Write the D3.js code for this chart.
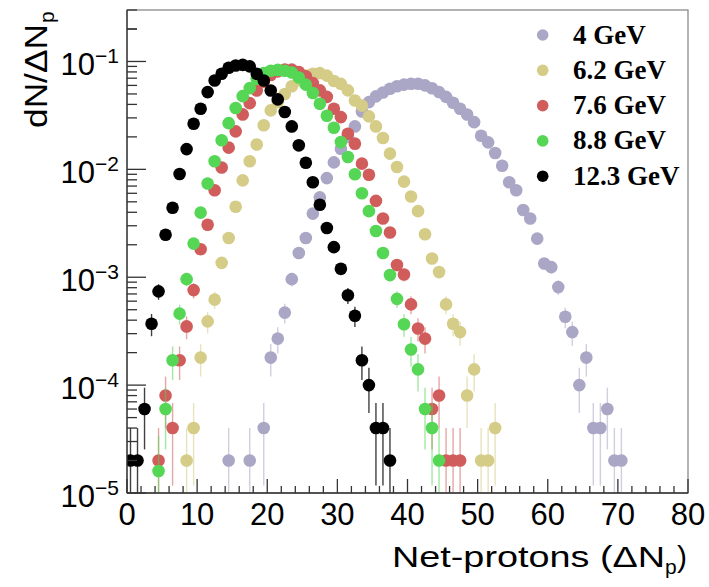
<!DOCTYPE html>
<html><head><meta charset="utf-8">
<script src="https://cdn.jsdelivr.net/npm/d3@7"></script>
<style>body{margin:0;background:#fff}svg{display:block}</style>
</head><body>
<svg id="c" width="709" height="587"></svg>
<script>
// ---- data ----
const energies = ["4 GeV", "6.2 GeV", "7.6 GeV", "8.8 GeV", "12.3 GeV"];
const colors = ["#aaa6c5", "#d4cc87", "#d15c5c", "#55d655", "#000000"];

const x_4 = [14.5,17.5,19.5,20.5,21.5,22.5,23.5,24.5,25.5,26.5,27.5,28.5,29.5,30.5,31.5,32.5,33.5,34.5,35.5,36.5,37.5,38.5,39.5,40.5,41.5,42.5,43.5,44.5,45.5,46.5,47.5,48.5,49.5,50.5,51.5,52.5,53.5,54.5,55.5,56.5,57.5,58.5,59.5,60.5,61.5,62.5,63.5,64.5,65.5,66.5,67.5,68.5,69.5,70.5];
const y_4 = [2e-5,2e-5,4e-5,1.8e-4,2.7e-4,4.7e-4,9.6e-4,1.68e-3,2.31e-3,3.89e-3,5.5e-3,8.3e-3,0.0116,0.0155,0.020,0.025,0.0344,0.042,0.0475,0.0515,0.0558,0.059,0.061,0.0622,0.0622,0.060,0.0565,0.052,0.047,0.0415,0.0365,0.0322,0.0274,0.0205,0.0178,0.0142,0.0108,0.0076,0.0064,0.0042,0.0035,0.00228,0.00134,0.00124,8.1e-4,4.3e-4,3.1e-4,1.0e-4,1.8e-4,4e-5,4e-5,6e-5,2e-5,2e-5];

const x_62 = [8.5,9.5,10.5,11.5,12.5,13.5,14.5,15.5,16.5,17.5,18.5,19.5,20.5,21.5,22.5,23.5,24.5,25.5,26.5,27.5,28.5,29.5,30.5,31.5,32.5,33.5,34.5,35.5,36.5,37.5,38.5,39.5,40.5,41.5,42.5,43.5,44.5,45.5,46.5,47.5,48.5,49.5,50.5,51.5,52.5];
const y_62 = [2e-5,4e-5,1.8e-4,3.9e-4,6.2e-4,1.36e-3,2.31e-3,4.5e-3,7.9e-3,0.0119,0.017,0.0256,0.0352,0.042,0.050,0.059,0.067,0.074,0.077,0.078,0.074,0.066,0.062,0.054,0.0435,0.039,0.031,0.025,0.0195,0.014,0.0105,7.7e-3,5.6e-3,4.1e-3,2.5e-3,1.49e-3,1.12e-3,5.6e-4,3.7e-4,3.1e-4,8e-5,1.4e-4,2e-5,2e-5,4e-5];

const x_76 = [4.5,5.5,6.5,7.5,8.5,9.5,10.5,11.5,12.5,13.5,14.5,15.5,16.5,17.5,18.5,19.5,20.5,21.5,22.5,23.5,24.5,25.5,26.5,27.5,28.5,29.5,30.5,31.5,32.5,33.5,34.5,35.5,36.5,37.5,38.5,39.5,40.5,41.5,42.5,43.5,44.5,45.5,46.5,47.5];
const y_76 = [2e-5,8e-5,4e-5,1.7e-4,3.5e-4,7.6e-4,1.82e-3,3.07e-3,6.4e-3,0.0104,0.0159,0.0225,0.0323,0.0411,0.0538,0.065,0.075,0.081,0.084,0.084,0.080,0.073,0.063,0.054,0.047,0.0365,0.0305,0.0214,0.0173,0.0113,0.0089,0.0051,0.0035,0.0026,0.0013,0.00106,5.6e-4,3.35e-4,2.7e-4,6e-5,8e-5,2e-5,2e-5,2e-5];

const x_88 = [4.5,5.5,6.5,7.5,8.5,9.5,10.5,11.5,12.5,13.5,14.5,15.5,16.5,17.5,18.5,19.5,20.5,21.5,22.5,23.5,24.5,25.5,26.5,27.5,28.5,29.5,30.5,31.5,32.5,33.5,34.5,35.5,36.5,37.5,38.5,39.5,40.5,41.5,42.5,43.5,44.5];
const y_88 = [1.6e-5,6e-5,1.7e-4,4.6e-4,9.6e-4,2.05e-3,3.97e-3,7.4e-3,0.0119,0.0186,0.0268,0.037,0.0477,0.0566,0.069,0.078,0.082,0.0835,0.082,0.079,0.071,0.061,0.051,0.0406,0.0314,0.0243,0.0179,0.013,0.009,0.006,0.0041,0.00268,0.00168,0.00105,6.3e-4,3.67e-4,2.14e-4,1.4e-4,6e-5,4e-5,2e-5];

const x_123 = [0.5,1.5,2.5,3.5,4.5,5.5,6.5,7.5,8.5,9.5,10.5,11.5,12.5,13.5,14.5,15.5,16.5,17.5,18.5,19.5,20.5,21.5,22.5,23.5,24.5,25.5,26.5,27.5,28.5,29.5,30.5,31.5,32.5,33.5,34.5,35.5,36.5,37.5];
const y_123 = [2e-5,2e-5,6e-5,3.7e-4,7.4e-4,2.48e-3,4.4e-3,9.06e-3,0.0154,0.0265,0.0365,0.052,0.0667,0.0769,0.0875,0.0919,0.093,0.090,0.0769,0.0667,0.0538,0.0445,0.034,0.025,0.0167,0.0115,0.0076,0.0047,0.00286,0.0019,0.0012,6.8e-4,4.4e-4,1.7e-4,1.0e-4,4e-5,4e-5,2e-5];

const xs = [x_4, x_62, x_76, x_88, x_123];
const ys = [y_4, y_62, y_76, y_88, y_123];
const countUnit = 2e-5;          // one entry in the normalised histogram
const xTicks = [0,10,20,30,40,50,60,70,80];
const yDecades = [-5,-4,-3,-2,-1];

// ---- layout ----
const L = 127, R = 688, T = 10, B = 493;
const FONT = "Liberation Sans, Arial, Helvetica, sans-serif";
const svg = d3.select("#c");
const x = d3.scaleLinear().domain([0, 80]).range([L, R]);
const y = d3.scaleLog().domain([1e-5, 0.3]).range([B, T]);

// frame
svg.append("rect").attr("x", L).attr("y", T).attr("width", R - L).attr("height", B - T)
  .attr("fill", "none").attr("stroke", "#8a8a8a").attr("stroke-width", 1.3);

svg.append("defs").append("clipPath").attr("id", "pc")
  .append("rect").attr("x", L).attr("y", T).attr("width", R - L).attr("height", B - T);
const plot = svg.append("g").attr("clip-path", "url(#pc)");

// series: error bars then markers, drawn in legend order
energies.forEach((e, i) => {
  const g = plot.append("g");
  const pts = xs[i].map((xv, k) => ({xv, yv: ys[i][k]}));
  g.selectAll("line").data(pts).enter().append("line")
    .attr("x1", d => x(d.xv)).attr("x2", d => x(d.xv))
    .attr("y1", d => y(d.yv + Math.sqrt(d.yv * countUnit)))
    .attr("y2", d => { const lo = d.yv - Math.sqrt(d.yv * countUnit); return lo > 1e-5 ? y(lo) : B + 5; })
    .attr("stroke", colors[i]).attr("stroke-opacity", i === 4 ? 0.75 : 0.55).attr("stroke-width", 1.4);
  g.selectAll("circle").data(pts).enter().append("circle")
    .attr("cx", d => x(d.xv)).attr("cy", d => y(d.yv)).attr("r", 6.3)
    .attr("fill", colors[i]);
});

// axes
const ax = svg.append("g").attr("stroke", "#333").attr("stroke-width", 1.3);
ax.append("line").attr("x1", L).attr("x2", L).attr("y1", T).attr("y2", B);
ax.append("line").attr("x1", L).attr("x2", R).attr("y1", B).attr("y2", B);
d3.range(0, 81, 2).forEach(v => {
  const major = v % 10 === 0;
  ax.append("line").attr("x1", x(v)).attr("x2", x(v)).attr("y1", B).attr("y2", B - (major ? 14 : 7));
});
svg.selectAll(".xl").data(xTicks).enter().append("text")
  .attr("x", d => x(d)).attr("y", B + 32).attr("text-anchor", "middle")
  .attr("font-family", FONT).attr("font-size", 31).text(d => d);
yDecades.forEach(p => {
  for (let m = 1; m <= 9; m++) {
    const v = m * Math.pow(10, p);
    if (v < 1e-5 || v > 0.3) continue;
    ax.append("line").attr("x1", L).attr("x2", L + (m === 1 ? 19 : 10)).attr("y1", y(v)).attr("y2", y(v));
  }
});
[2e-1, 3e-1].forEach(v => ax.append("line").attr("x1", L).attr("x2", L + 10).attr("y1", y(v)).attr("y2", y(v)));
yDecades.forEach(p => {
  const t = svg.append("text").attr("x", 119).attr("y", y(Math.pow(10, p)) + 14)
    .attr("text-anchor", "end").attr("font-family", FONT).attr("font-size", 31);
  t.append("tspan").text("10");
  t.append("tspan").attr("font-size", 21).attr("dy", -12).text("\u2212" + (-p));
});

// axis titles
svg.append("text").attr("x", 392).attr("y", 567).attr("font-family", FONT).attr("font-size", 30)
  .attr("textLength", 273).attr("lengthAdjust", "spacingAndGlyphs").text("Net-protons (\u0394N");
svg.append("text").attr("x", 665).attr("y", 574).attr("font-family", FONT).attr("font-size", 21).text("p");
svg.append("text").attr("x", 677).attr("y", 567).attr("font-family", FONT).attr("font-size", 30).text(")");

const yt = svg.append("g").attr("transform", "translate(47,128) rotate(-90)");
yt.append("text").attr("x", 0).attr("y", 0).attr("font-family", FONT).attr("font-size", 31)
  .attr("textLength", 104).attr("lengthAdjust", "spacingAndGlyphs").text("dN/\u0394N");
yt.append("text").attr("x", 105).attr("y", 7).attr("font-family", FONT).attr("font-size", 21).text("p");

// legend
energies.forEach((e, i) => {
  const cy = 35 + i * 35.3;
  svg.append("circle").attr("cx", 542.7).attr("cy", cy).attr("r", 5.8).attr("fill", colors[i]);
  svg.append("text").attr("x", 573).attr("y", cy + 8.5)
    .attr("font-family", "Liberation Serif, Times New Roman, serif").attr("font-weight", "bold")
    .attr("font-size", 27).text(e);
});
</script>
</body></html>
